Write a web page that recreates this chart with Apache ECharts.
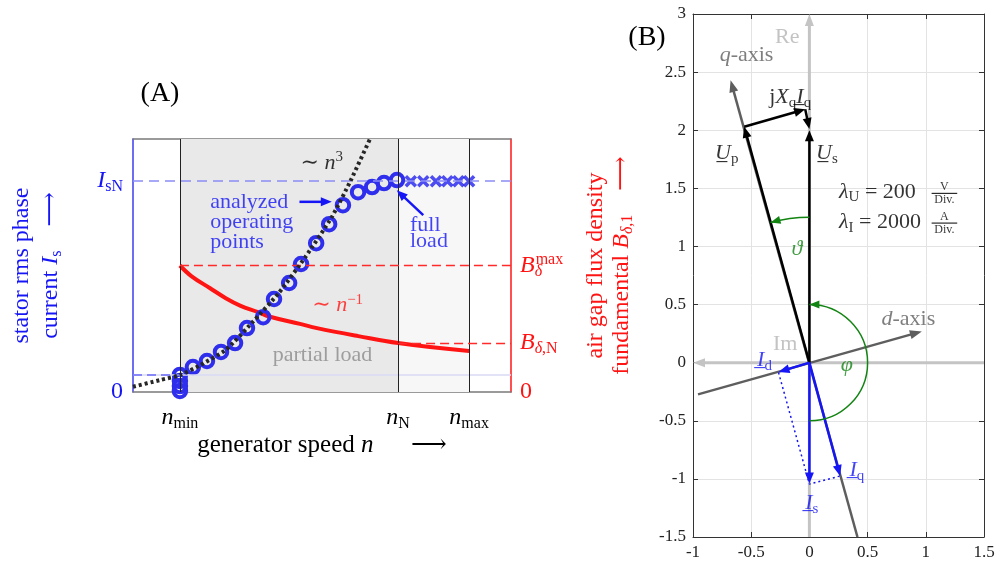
<!DOCTYPE html>
<html>
<head>
<meta charset="utf-8">
<script src="https://cdn.jsdelivr.net/npm/echarts@6/dist/echarts.min.js"></script>
<style>
  html, body { margin: 0; background: #fff; }
  #chart { width: 998px; height: 568px; }
</style>
</head>
<body>
<div id="chart"></div>
<script>
const SERIF = '"Liberation Serif", "DejaVu Serif", serif';
const BLUE = '#1515f5';
const RED = '#ff1414';
const GREEN = '#128412';
const DARK = '#5e5e5e';
const LIGHT = '#c4c4c4';

// ---- panel A: speed (n_N = 1) vs current (I_sN = 1) / flux density
const speedMax = 1.426;
const levelMax = 1.2;
const nMin = 0.177, nN = 1.0, nMax = 1.268;
const IsN = 1.0, IsLow = 0.08;
const BMax = 0.60, BN = 0.232;

const opSpeed = [0.177, 0.177, 0.177, 0.177, 0.226, 0.279, 0.332, 0.385, 0.430, 0.491,
  0.532, 0.589, 0.634, 0.691, 0.740, 0.792, 0.849, 0.902, 0.947, 0.996];
const opCurrent = [0.081, 0.052, 0.028, 0.005, 0.118, 0.147, 0.190, 0.232, 0.303, 0.355,
  0.441, 0.517, 0.607, 0.706, 0.796, 0.886, 0.948, 0.972, 0.991, 1.005];
const fullSpeed = [1.048, 1.095, 1.143, 1.186, 1.228, 1.268];
const fullCurrent = [1.0, 1.0, 1.0, 1.0, 1.0, 1.0];
const cubicSpeed = [0, 0.10, 0.177, 0.25, 0.35, 0.45, 0.55, 0.65, 0.75, 0.82, 0.894];
const cubicCurrent = [0.025, 0.056, 0.08, 0.125, 0.20, 0.33, 0.47, 0.64, 0.83, 1.0, 1.2];
const fluxSpeed = [0.177, 0.22, 0.291, 0.35, 0.404, 0.472, 0.517, 0.63, 0.694, 0.85, 1.0, 1.268];
const fluxDensity = [0.60, 0.55, 0.492, 0.445, 0.410, 0.379, 0.357, 0.323, 0.303, 0.265, 0.232, 0.194];

// ---- panel B: phasor diagram
const reImAxes = [[0, -1.5, 0, 3], [1.5, 0, -1, 0]];
const dqAxes = [[-0.957, -0.273, 0.966, 0.269], [0.413, -1.5, -0.677, 2.43]];
const voltageVectors = [[0, 0, -0.56, 2.03], [-0.56, 2.03, -0.036, 2.18], [-0.036, 2.18, 0, 2.01], [0, 0, 0, 2.0]];
const currentVectors = [[0, 0, 0, -1.04], [0, 0, -0.265, -0.08], [0, 0, 0.264, -0.975]];
const currentDotted = [[-0.265, -0.085], [0, -1.045], [0.264, -0.975]];
const angleArcs = [[0, 0, 1.25, 90, 105.5], [0, 0, 0.5, -90, 90]];
const fractionBars = [[1.05, 1.457, 1.27, 1.457], [1.05, 1.201, 1.27, 1.201]];

function mkRich(color, size) {
  const sub = Math.round(size * 0.68);
  const base = { color, fontFamily: SERIF };
  return {
    r: { ...base, fontSize: size, lineHeight: size + 4 },
    i: { ...base, fontSize: size, lineHeight: size + 4, fontStyle: 'italic' },
    s: { ...base, fontSize: sub, lineHeight: sub, verticalAlign: 'bottom' },
    si: { ...base, fontSize: sub, lineHeight: sub, verticalAlign: 'bottom', fontStyle: 'italic' },
    z: { ...base, fontSize: sub, lineHeight: sub, verticalAlign: 'bottom', fontStyle: 'italic', width: 1, align: 'left' },
    p: { ...base, fontSize: sub, lineHeight: sub, verticalAlign: 'top' }
  };
}

function lbl(x, y, text, color, size, align, lineHeight) {
  return {
    value: [x, y],
    label: {
      show: true, position: 'inside', formatter: text, color,
      fontFamily: SERIF, fontSize: size, lineHeight: lineHeight || size,
      align: align || 'center', verticalAlign: 'middle',
      rich: mkRich(color, size)
    }
  };
}

function arrowSeries(xi, yi, color, width, data, head, z) {
  return {
    type: 'custom', xAxisIndex: xi, yAxisIndex: yi, data, silent: true, z: z || 5,
    encode: { x: [0, 2], y: [1, 3] },
    renderItem(params, api) {
      const a = api.coord([api.value(0), api.value(1)]);
      const b = api.coord([api.value(2), api.value(3)]);
      const kids = [];
      let end = b;
      if (head) {
        const dx = b[0] - a[0], dy = b[1] - a[1];
        const L = Math.hypot(dx, dy) || 1;
        const ux = dx / L, uy = dy / L;
        const bx = b[0] - ux * head[0], by = b[1] - uy * head[0];
        end = [bx + ux * 2, by + uy * 2];
        kids.push({
          type: 'polygon',
          shape: { points: [b, [bx - uy * head[1], by + ux * head[1]], [bx + uy * head[1], by - ux * head[1]]] },
          style: { fill: color }
        });
      }
      kids.unshift({
        type: 'line',
        shape: { x1: a[0], y1: a[1], x2: end[0], y2: end[1] },
        style: { stroke: color, lineWidth: width }
      });
      return { type: 'group', children: kids };
    }
  };
}

const speedTicks = {};
speedTicks[nMin] = '{i|n}{s|min}';
speedTicks[nN] = '{i|n}{s|N}';
speedTicks[nMax] = '{i|n}{s|max}';
const fluxTicks = {};
fluxTicks[0] = '{r|0}';
fluxTicks[BN] = '{i|B}{si|δ}{s|,N}';
fluxTicks[BMax] = '{i|B}{z|δ}{p|max}';

const phasorLabels = [
  lbl(-0.19, 2.80, '{r|Re}', '#b4b4b4', 22),
  lbl(-0.54, 2.645, '{i|q}{r|-axis}', DARK, 22),
  lbl(-0.165, 2.285, '{r|j}{i|X}{s|q}{i|I\u0332}{s|q}', '#000', 22),
  lbl(-0.71, 1.80, '{i|U\u0332}{s|p}', '#000', 22),
  lbl(0.15, 1.80, '{i|U\u0332}{s|s}', '#000', 22),
  lbl(0.255, 1.468, '{i|λ}{s|U}{r| = 200}', '#000', 22, 'left'),
  lbl(1.16, 1.457, 'V\nDiv.', '#000', 12, 'center', 13),
  lbl(0.255, 1.205, '{i|λ}{s|I}{r| = 2000}', '#000', 22, 'left'),
  lbl(1.16, 1.201, 'A\nDiv.', '#000', 12, 'center', 13),
  lbl(-0.107, 0.98, '{i|ϑ}', GREEN, 22),
  lbl(0.85, 0.37, '{i|d}{r|-axis}', DARK, 22),
  lbl(-0.208, 0.163, '{r|Im}', '#b4b4b4', 22),
  lbl(-0.386, 0.02, '{i|I\u0332}{s|d}', BLUE, 22),
  lbl(0.322, -0.02, '{i|φ}', GREEN, 22),
  lbl(0.408, -0.927, '{i|I\u0332}{s|q}', BLUE, 22),
  lbl(0.021, -1.213, '{i|I\u0332}{s|s}', BLUE, 22)
];

const loadLabels = [
  lbl(0.712, 1.087, '{r|∼ }{i|n}{p|3}', '#000', 22),
  lbl(0.291, 0.806, 'analyzed\noperating\npoints', BLUE, 22, 'left', 20),
  lbl(1.045, 0.754, 'full\nload', BLUE, 22, 'left', 16),
  lbl(0.772, 0.412, '{r|∼ }{i|n}{p|−1}', RED, 22),
  lbl(0.715, 0.175, 'partial load', '#8a8a8a', 22)
];

const chart = echarts.init(document.getElementById('chart'));

const tickB = { fontFamily: SERIF, fontSize: 17, color: '#222', margin: 7 };
const boxLine = color => ({ show: true, onZero: false, lineStyle: { color, width: 1.5 } });
const frameLine = { show: true, onZero: false, lineStyle: { color: '#333', width: 1 } };
const inTick = { show: true, inside: true, length: 5, lineStyle: { color: '#333' } };

chart.setOption({
  animation: false,
  backgroundColor: '#fff',
  grid: [
    { left: 133, top: 139, width: 378, height: 253, outerBoundsMode: 'none', containLabel: false },
    { left: 693, top: 14, width: 291, height: 523, outerBoundsMode: 'none', containLabel: false }
  ],
  graphic: [
    { type: 'text', x: 160, y: 94, style: { text: '(A)', font: '28px ' + SERIF, fill: '#000', align: 'center', verticalAlign: 'middle' } },
    { type: 'text', x: 647, y: 38, style: { text: '(B)', font: '28px ' + SERIF, fill: '#000', align: 'center', verticalAlign: 'middle' } }
  ],
  xAxis: [
    {
      gridIndex: 0, type: 'value', min: 0, max: speedMax, position: 'bottom',
      axisLine: boxLine('#7a7a7a'), axisTick: { show: false }, splitLine: { show: false },
      axisLabel: {
        customValues: [nMin, nN, nMax], margin: 12,
        formatter: v => speedTicks[v] || '', rich: mkRich('#000', 24)
      },
      name: 'generator speed {i|n}\u2003\u2002⟶', nameLocation: 'middle', nameGap: 35,
      nameTextStyle: { fontFamily: SERIF, fontSize: 25, color: '#000', rich: mkRich('#000', 25) }
    },
    {
      gridIndex: 0, type: 'value', min: 0, max: speedMax, position: 'top',
      axisLine: boxLine('#7a7a7a'), axisTick: { show: false }, axisLabel: { show: false }, splitLine: { show: false }
    },
    {
      gridIndex: 1, type: 'value', min: -1, max: 1.5, interval: 0.5, position: 'bottom',
      axisLine: frameLine, axisTick: inTick,
      splitLine: { lineStyle: { color: '#e3e3e3', width: 1 } },
      axisLabel: tickB
    },
    {
      gridIndex: 1, type: 'value', min: -1, max: 1.5, interval: 0.5, position: 'top',
      axisLine: frameLine, axisTick: inTick, splitLine: { show: false }, axisLabel: { show: false }
    }
  ],
  yAxis: [
    {
      gridIndex: 0, type: 'value', min: 0, max: levelMax, position: 'left',
      axisLine: boxLine('#3b3bf2'), axisTick: { show: false }, splitLine: { show: false },
      axisLabel: {
        customValues: [0, IsN], margin: 10,
        formatter: v => (v === 0 ? '{r|0}' : '{i|I}{s|sN}'), rich: mkRich(BLUE, 24)
      },
      name: 'stator rms phase\n{r|current }{i|I}{s|s}{r|\u2003⟶}',
      nameLocation: 'middle', nameRotate: 90, nameGap: 68,
      nameTextStyle: { fontFamily: SERIF, fontSize: 24, lineHeight: 30, color: BLUE, rich: mkRich(BLUE, 24) }
    },
    {
      gridIndex: 0, type: 'value', min: 0, max: levelMax, position: 'right',
      axisLine: boxLine(RED), axisTick: { show: false }, splitLine: { show: false },
      axisLabel: {
        customValues: [0, BN, BMax], margin: 9,
        formatter: v => fluxTicks[v] || '', rich: mkRich(RED, 24)
      },
      name: 'air gap flux density\n{r|fundamental }{i|B}{si|δ}{s|,1}{r|\u2003⟶}',
      nameLocation: 'middle', nameRotate: 90, nameGap: 73,
      nameTextStyle: { fontFamily: SERIF, fontSize: 24, lineHeight: 24, color: RED, rich: mkRich(RED, 24) }
    },
    {
      gridIndex: 1, type: 'value', min: -1.5, max: 3, interval: 0.5, position: 'left',
      axisLine: frameLine, axisTick: inTick,
      splitLine: { lineStyle: { color: '#e3e3e3', width: 1 } },
      axisLabel: tickB
    },
    {
      gridIndex: 1, type: 'value', min: -1.5, max: 3, interval: 0.5, position: 'right',
      axisLine: frameLine, axisTick: inTick, splitLine: { show: false }, axisLabel: { show: false }
    }
  ],
  series: [
    // operating regions and reference levels
    {
      type: 'line', xAxisIndex: 0, yAxisIndex: 0, data: [], silent: true, z: 1,
      markArea: {
        silent: true,
        data: [
          [{ xAxis: nMin, itemStyle: { color: '#e9e9e9' } }, { xAxis: nN }],
          [{ xAxis: nN, itemStyle: { color: '#f7f7f7' } }, { xAxis: nMax }]
        ]
      },
      markLine: {
        silent: true, symbol: 'none', label: { show: false },
        data: [
          { yAxis: IsLow, lineStyle: { color: '#dadaf6', width: 1.5, type: 'solid' } },
          [{ coord: [0, IsLow], lineStyle: { color: '#6a6af4', width: 1.5, type: [9, 5] } }, { coord: [nMin, IsLow] }],
          { yAxis: IsN, lineStyle: { color: '#8c8cf6', width: 1.5, type: [10, 6] } },
          { xAxis: nMin, lineStyle: { color: '#222', width: 1, type: 'solid' } },
          { xAxis: nN, lineStyle: { color: '#222', width: 1, type: 'solid' } },
          { xAxis: nMax, lineStyle: { color: '#222', width: 1, type: 'solid' } }
        ]
      }
    },
    // flux reference levels on the right-hand axis
    {
      type: 'line', xAxisIndex: 0, yAxisIndex: 1, data: [], silent: true, z: 2,
      markLine: {
        silent: true, symbol: 'none', label: { show: false },
        lineStyle: { color: '#ff2a2a', width: 1.3, type: [9, 5] },
        data: [
          [{ coord: [nMin, BMax] }, { coord: [speedMax, BMax] }],
          [{ coord: [nN, BN] }, { coord: [speedMax, BN] }]
        ]
      }
    },
    {
      type: 'line', xAxisIndex: 0, yAxisIndex: 1, silent: true, z: 3, symbol: 'none', smooth: 0.4,
      data: fluxSpeed.map((n, k) => [n, fluxDensity[k]]),
      lineStyle: { color: RED, width: 4 }
    },
    {
      type: 'scatter', xAxisIndex: 0, yAxisIndex: 0, silent: true, z: 4,
      symbol: 'circle', symbolSize: 12.5,
      itemStyle: { color: 'rgba(0,0,0,0)', borderColor: '#2e2eec', borderWidth: 4, opacity: 1 },
      data: opSpeed.map((n, k) => [n, opCurrent[k]])
    },
    {
      type: 'scatter', xAxisIndex: 0, yAxisIndex: 0, silent: true, z: 4,
      symbol: 'path://M0,0L10,10M10,0L0,10', symbolSize: 10,
      itemStyle: { color: 'none', borderColor: '#2020ee', borderWidth: 3.5 },
      data: fullSpeed.map((n, k) => [n, fullCurrent[k]])
    },
    {
      type: 'line', xAxisIndex: 0, yAxisIndex: 0, silent: true, z: 5, symbol: 'none', smooth: 0.2,
      data: cubicSpeed.map((n, k) => [n, cubicCurrent[k]]),
      lineStyle: { color: '#262626', width: 4, type: [3, 3] }
    },
    arrowSeries(0, 0, BLUE, 2.5, [[0.628, 0.902, 0.75, 0.902], [1.095, 0.839, 0.995, 0.957]], [11, 4.5], 6),
    {
      type: 'scatter', xAxisIndex: 0, yAxisIndex: 0, silent: true, z: 7, clip: false,
      symbolSize: 0, data: loadLabels
    },

    // phasor diagram
    arrowSeries(2, 2, LIGHT, 3, reImAxes, [12, 4.5], 3),
    arrowSeries(2, 2, DARK, 2.5, dqAxes, [12, 4.5], 4),
    arrowSeries(2, 2, '#000', 2.5, voltageVectors, [11, 4.5], 5),
    arrowSeries(2, 2, BLUE, 2.5, currentVectors, [11, 4.5], 6),
    arrowSeries(2, 2, '#000', 1, fractionBars, null, 6),
    {
      type: 'line', xAxisIndex: 2, yAxisIndex: 2, silent: true, z: 5, symbol: 'none',
      data: currentDotted, lineStyle: { color: BLUE, width: 1.5, type: [2, 3] }
    },
    {
      type: 'custom', xAxisIndex: 2, yAxisIndex: 2, silent: true, z: 6, data: angleArcs,
      encode: { x: 0, y: 1 },
      renderItem(params, api) {
        const c = api.coord([api.value(0), api.value(1)]);
        const r = api.size([api.value(2), 0])[0];
        const t0 = api.value(3) * Math.PI / 180, t1 = api.value(4) * Math.PI / 180;
        const tip = [c[0] + r * Math.cos(t1), c[1] - r * Math.sin(t1)];
        const ux = -Math.sin(t1), uy = -Math.cos(t1);
        const bx = tip[0] - ux * 10, by = tip[1] - uy * 10;
        return {
          type: 'group',
          children: [
            { type: 'arc', shape: { cx: c[0], cy: c[1], r, startAngle: -t0, endAngle: -t1, clockwise: false },
              style: { stroke: GREEN, lineWidth: 1.5, fill: 'none' } },
            { type: 'polygon', shape: { points: [tip, [bx - uy * 4, by + ux * 4], [bx + uy * 4, by - ux * 4]] },
              style: { fill: GREEN } }
          ]
        };
      }
    },
    {
      type: 'scatter', xAxisIndex: 2, yAxisIndex: 2, silent: true, z: 8, clip: false,
      symbolSize: 0, data: phasorLabels
    }
  ]
});
</script>
</body>
</html>
